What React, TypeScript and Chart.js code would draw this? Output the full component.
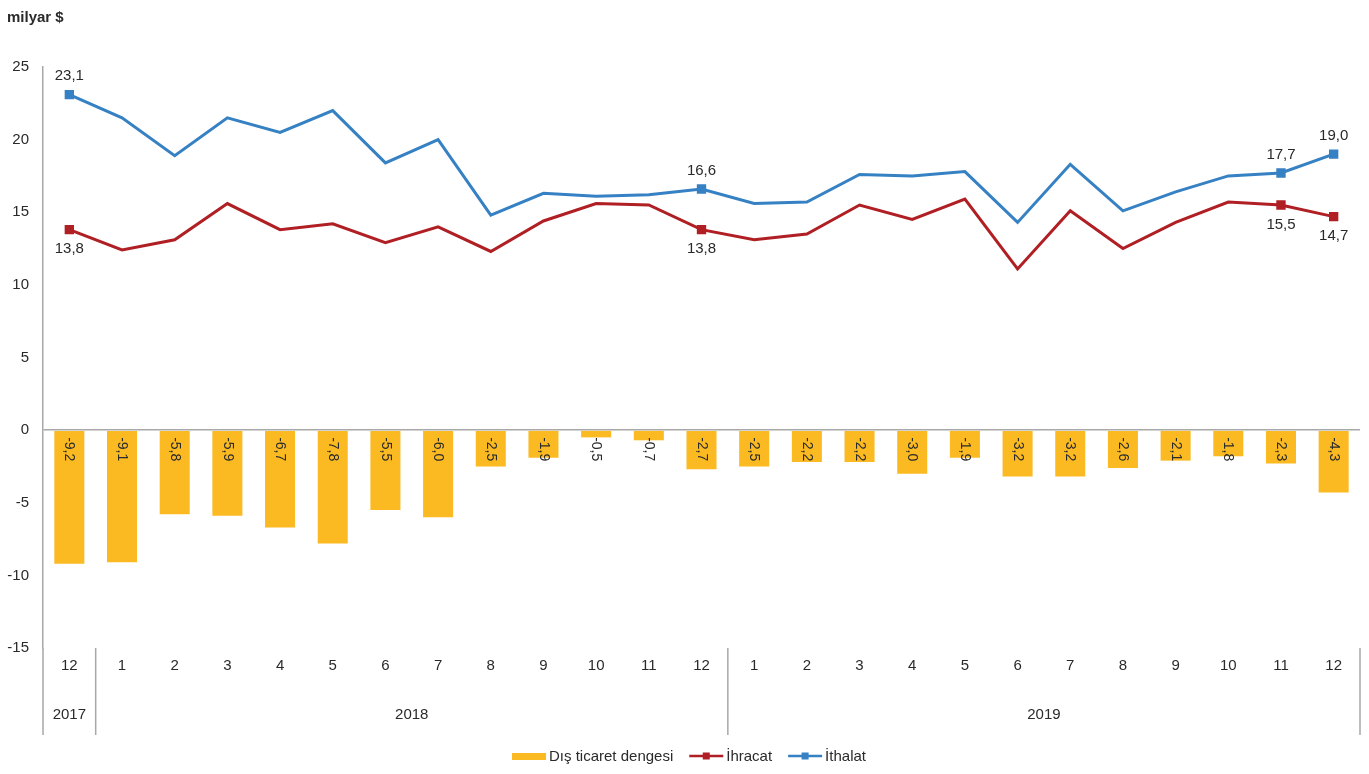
import React, { useEffect, useRef } from "react";
import { Chart, registerables } from "chart.js";

Chart.register(...registerables);

const months = ["12", "1", "2", "3", "4", "5", "6", "7", "8", "9", "10", "11", "12", "1", "2", "3", "4", "5", "6", "7", "8", "9", "10", "11", "12"];
const yearLabels = ["2017", "2018", "2019"];
const yearSpans = [1, 12, 12];

const balance = [-9.2, -9.1, -5.8, -5.9, -6.7, -7.8, -5.5, -6.0, -2.5, -1.9, -0.5, -0.7, -2.7, -2.5, -2.2, -2.2, -3.0, -1.9, -3.2, -3.2, -2.6, -2.1, -1.8, -2.3, -4.3];
const exportsVals = [13.8, 12.4, 13.1, 15.6, 13.8, 14.2, 12.9, 14.0, 12.3, 14.4, 15.6, 15.5, 13.8, 13.1, 13.5, 15.5, 14.5, 15.9, 11.1, 15.1, 12.5, 14.3, 15.7, 15.5, 14.7];
const importsVals = [23.1, 21.5, 18.9, 21.5, 20.5, 22.0, 18.4, 20.0, 14.8, 16.3, 16.1, 16.2, 16.6, 15.6, 15.7, 17.6, 17.5, 17.8, 14.3, 18.3, 15.1, 16.4, 17.5, 17.7, 19.0];
const labeledIdx = [0, 12, 23, 24];

const seriesNames = ["Dış ticaret dengesi", "İhracat", "İthalat"];
const BAR_COLOR = "#FBB922";
const RED = "#B01F24";
const BLUE = "#3581C3";
const TEXT = "#2a2a2a";
const AXIS = "#A8A8A8";
const FONT = "'Liberation Sans', Arial, sans-serif";

const fmt = (v: number) => v.toFixed(1).replace(".", ",");

const overlay = {
  id: "overlay",
  afterDraw(chart: any) {
    const ctx = chart.ctx;
    const xs = chart.scales.x;
    const ys = chart.scales.y;
    const area = chart.chartArea;
    ctx.save();

    // title
    ctx.fillStyle = TEXT;
    ctx.font = `bold 15px ${FONT}`;
    ctx.textAlign = "left";
    ctx.textBaseline = "middle";
    ctx.fillText("milyar $", 7, 18);

    // bar labels
    const zeroY = ys.getPixelForValue(0);
    ctx.font = `14px ${FONT}`;
    const barMeta = chart.getDatasetMeta(0);
    barMeta.data.forEach((el: any, i: number) => {
      ctx.save();
      ctx.translate(el.x, zeroY + 7);
      ctx.rotate(Math.PI / 2);
      ctx.textAlign = "left";
      ctx.textBaseline = "middle";
      ctx.fillStyle = TEXT;
      ctx.fillText(fmt(balance[i]), 0, 0);
      ctx.restore();
    });

    // line labels
    const expMeta = chart.getDatasetMeta(1);
    const impMeta = chart.getDatasetMeta(2);
    ctx.font = `15px ${FONT}`;
    ctx.textAlign = "center";
    labeledIdx.forEach((i) => {
      const pe = expMeta.data[i];
      const pi = impMeta.data[i];
      ctx.textBaseline = "top";
      ctx.fillText(fmt(exportsVals[i]), pe.x, pe.y + 12);
      ctx.textBaseline = "bottom";
      ctx.fillText(fmt(importsVals[i]), pi.x, pi.y - 11);
    });

    // axis extensions and separators
    const bottomY = 735;
    ctx.strokeStyle = AXIS;
    ctx.lineWidth = 1.5;
    const boundary = (k: number) => (xs.getPixelForValue(k - 1) + xs.getPixelForValue(k)) / 2;
    ctx.beginPath();
    ctx.moveTo(area.left, area.bottom);
    ctx.lineTo(area.left, bottomY);
    let start = 0;
    const edges: number[] = [];
    yearSpans.forEach((span) => {
      const end = start + span;
      edges.push(end);
      start = end;
    });
    edges.forEach((e) => {
      const x = e >= months.length ? area.right : boundary(e);
      ctx.moveTo(x, area.bottom);
      ctx.lineTo(x, bottomY);
    });
    ctx.stroke();

    // year labels
    ctx.fillStyle = TEXT;
    ctx.font = `15px ${FONT}`;
    ctx.textAlign = "center";
    ctx.textBaseline = "middle";
    start = 0;
    yearSpans.forEach((span, k) => {
      const x0 = start === 0 ? area.left : boundary(start);
      const x1 = start + span >= months.length ? area.right : boundary(start + span);
      ctx.fillText(yearLabels[k], (x0 + x1) / 2, 715);
      start += span;
    });

    // legend
    const ly = 756;
    ctx.font = `15px ${FONT}`;
    ctx.textAlign = "left";
    ctx.textBaseline = "middle";
    const items = [
      { name: seriesNames[0], type: "bar", color: BAR_COLOR },
      { name: seriesNames[1], type: "line", color: RED },
      { name: seriesNames[2], type: "line", color: BLUE },
    ];
    const widths = items.map((it) => ctx.measureText(it.name).width);
    const symW = 34;
    const gap = 3;
    const itemGap = 16;
    const total = items.reduce((s, it, i) => s + symW + gap + widths[i], 0) + itemGap * (items.length - 1);
    let x = 689 - total / 2;
    items.forEach((it, i) => {
      if (it.type === "bar") {
        ctx.fillStyle = it.color;
        ctx.fillRect(x, ly - 3, symW, 7);
      } else {
        ctx.strokeStyle = it.color;
        ctx.lineWidth = 2.5;
        ctx.beginPath();
        ctx.moveTo(x, ly);
        ctx.lineTo(x + symW, ly);
        ctx.stroke();
        ctx.fillStyle = it.color;
        ctx.fillRect(x + symW / 2 - 3.5, ly - 3.5, 7, 7);
      }
      ctx.fillStyle = TEXT;
      ctx.fillText(it.name, x + symW + gap, ly + 1);
      x += symW + gap + widths[i] + itemGap;
    });

    ctx.restore();
  },
};

export default function App() {
  const ref = useRef<HTMLCanvasElement | null>(null);
  useEffect(() => {
    if (!ref.current) return;
    const radii = months.map((_, i) => (labeledIdx.includes(i) ? 4.5 : 0));
    const chart = new Chart(ref.current, {
      type: "bar",
      data: {
        labels: months,
        datasets: [
          {
            type: "bar",
            label: seriesNames[0],
            data: balance,
            backgroundColor: BAR_COLOR,
            barPercentage: 0.57,
            categoryPercentage: 1,
            order: 3,
          },
          {
            type: "line",
            label: seriesNames[1],
            data: exportsVals,
            borderColor: RED,
            backgroundColor: RED,
            borderWidth: 3,
            pointStyle: "rect",
            pointRadius: radii,
            pointHoverRadius: radii,
            tension: 0,
            order: 2,
          },
          {
            type: "line",
            label: seriesNames[2],
            data: importsVals,
            borderColor: BLUE,
            backgroundColor: BLUE,
            borderWidth: 3,
            pointStyle: "rect",
            pointRadius: radii,
            pointHoverRadius: radii,
            tension: 0,
            order: 1,
          },
        ] as any,
      },
      options: {
        animation: false,
        responsive: true,
        maintainAspectRatio: false,
        layout: { padding: { top: 67, right: 9, left: 0, bottom: 0 } },
        plugins: {
          legend: { display: false },
          tooltip: { enabled: false },
        },
        scales: {
          x: {
            grid: { display: false, drawTicks: false },
            border: { display: false },
            ticks: {
              color: TEXT,
              font: { family: FONT, size: 15 },
              padding: 9,
              maxRotation: 0,
              autoSkip: false,
            },
            afterFit: (s: any) => {
              s.height = 126;
            },
          },
          y: {
            min: -15,
            max: 25,
            ticks: {
              stepSize: 5,
              color: TEXT,
              font: { family: FONT, size: 15 },
              padding: 14,
            },
            grid: {
              drawTicks: false,
              color: (c: any) => (c.tick && c.tick.value === 0 ? AXIS : "rgba(0,0,0,0)"),
              lineWidth: 1.5,
            },
            border: { display: true, color: AXIS, width: 1.5 },
            afterFit: (s: any) => {
              s.width = 43;
            },
          },
        },
      } as any,
      plugins: [overlay],
    });
    return () => chart.destroy();
  }, []);

  return (
    <div style={{ position: "absolute", left: 0, top: 0, width: 1369, height: 774, background: "#fff" }}>
      <canvas ref={ref} />
    </div>
  );
}
